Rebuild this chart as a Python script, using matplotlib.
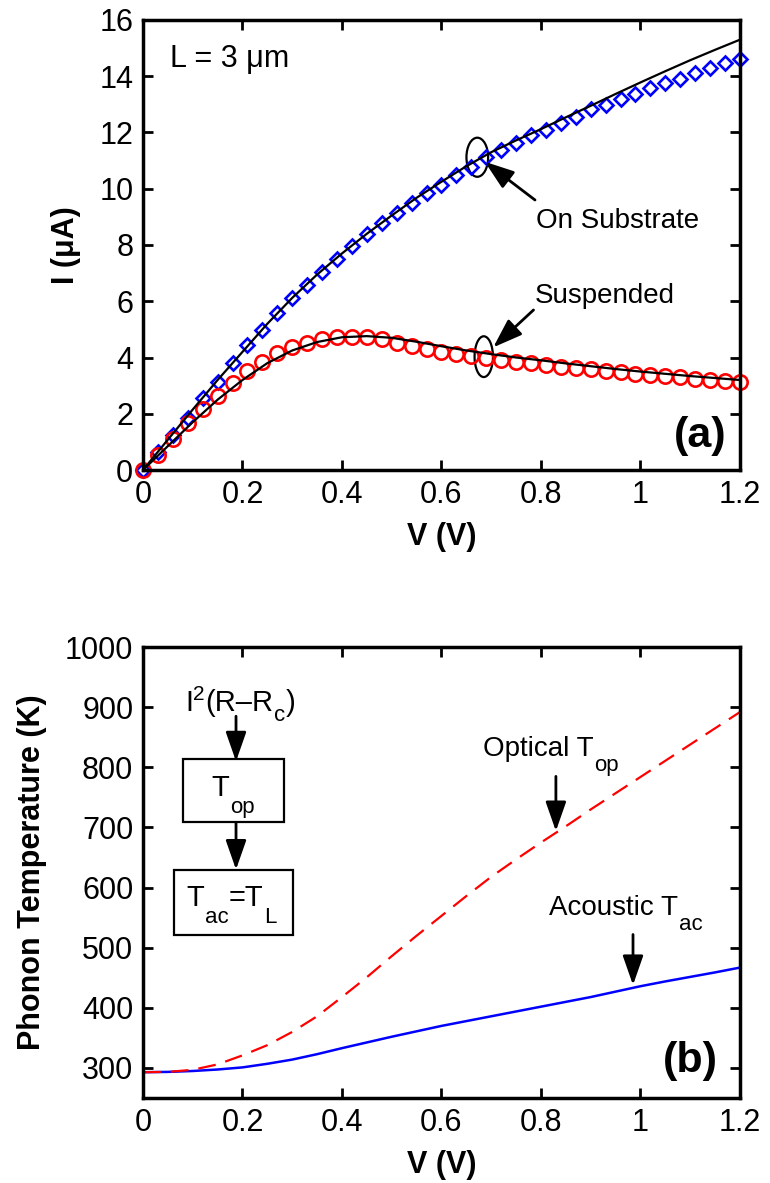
import matplotlib
matplotlib.use("Agg")
import matplotlib.pyplot as plt
from matplotlib.patches import Ellipse, Rectangle

plt.rcParams['font.family'] = ['Liberation Sans', 'DejaVu Sans']

# (a) measured I-V, one point every 30 mV
v_meas = [0.00, 0.03, 0.06, 0.09, 0.12, 0.15, 0.18, 0.21, 0.24, 0.27,
          0.30, 0.33, 0.36, 0.39, 0.42, 0.45, 0.48, 0.51, 0.54, 0.57,
          0.60, 0.63, 0.66, 0.69, 0.72, 0.75, 0.78, 0.81, 0.84, 0.87,
          0.90, 0.93, 0.96, 0.99, 1.02, 1.05, 1.08, 1.11, 1.14, 1.17, 1.20]
i_substrate = [0.0, 0.65, 1.24, 1.84, 2.55, 3.14, 3.79, 4.44, 4.98, 5.57,
               6.10, 6.58, 7.05, 7.50, 7.95, 8.38, 8.77, 9.13, 9.51, 9.84,
               10.13, 10.49, 10.78, 11.14, 11.38, 11.61, 11.91, 12.09, 12.33, 12.56,
               12.82, 12.98, 13.18, 13.37, 13.57, 13.77, 13.89, 14.10, 14.28, 14.46, 14.60]
i_suspended = [0.0, 0.53, 1.09, 1.66, 2.16, 2.63, 3.08, 3.53, 3.85, 4.15,
               4.36, 4.53, 4.65, 4.72, 4.74, 4.72, 4.65, 4.53, 4.41, 4.29,
               4.20, 4.12, 4.05, 4.00, 3.91, 3.85, 3.79, 3.73, 3.67, 3.61,
               3.58, 3.53, 3.47, 3.41, 3.38, 3.34, 3.29, 3.25, 3.20, 3.16, 3.14]

# model curves on a 50 mV grid
v_model = [0.00, 0.05, 0.10, 0.15, 0.20, 0.25, 0.30, 0.35, 0.40, 0.45,
           0.50, 0.55, 0.60, 0.65, 0.70, 0.75, 0.80, 0.85, 0.90, 0.95,
           1.00, 1.05, 1.10, 1.15, 1.20]
i_substrate_fit = [0.0, 1.08, 2.15, 3.20, 4.20, 5.20, 6.12, 6.95, 7.70, 8.40,
                   9.05, 9.68, 10.25, 10.80, 11.30, 11.72, 12.12, 12.54, 12.95, 13.37,
                   13.78, 14.18, 14.57, 14.94, 15.30]
i_suspended_fit = [0.0, 0.85, 1.70, 2.50, 3.20, 3.80, 4.25, 4.55, 4.72, 4.76,
                   4.70, 4.56, 4.40, 4.25, 4.12, 4.00, 3.90, 3.79, 3.69, 3.59,
                   3.50, 3.42, 3.34, 3.27, 3.20]

# (b) phonon temperatures (K)
t_optical = [293, 293.5, 297, 306, 321, 338, 360, 386, 418, 451,
             486, 520, 553, 586, 618, 647, 675, 702, 730, 757,
             784, 811, 838, 865, 892]
t_acoustic = [293, 293.5, 295, 297.5, 301, 307, 314, 323, 333, 342.5,
              352, 361, 370, 378, 386, 394, 402, 410, 418, 427,
              436, 444, 451.5, 459, 467]

x_ticks = [0, 0.2, 0.4, 0.6, 0.8, 1.0, 1.2]
x_tick_labels = ['0', '0.2', '0.4', '0.6', '0.8', '1', '1.2']

FS = 22


def style_axes(ax):
    for s in ax.spines.values():
        s.set_linewidth(2.5)
    ax.tick_params(direction='in', length=7, width=2, top=True, right=True,
                   labelsize=FS, pad=7)
    ax.set_xlim(0, 1.2)
    ax.set_xticks(x_ticks)
    ax.set_xticklabels(x_tick_labels)


def arrow(ax, tail, head):
    ax.annotate('', xy=head, xytext=tail,
                arrowprops=dict(arrowstyle='-|>,head_length=1.0,head_width=0.35',
                                mutation_scale=18, color='k', lw=2,
                                shrinkA=0, shrinkB=0))


def rich(ax, x, y, pieces):
    # pieces: (text, fontsize, vertical shift in points), chained left to right
    txt, fs, dy = pieces[0]
    t = ax.text(x, y, txt, fontsize=fs, ha='left', va='baseline')
    for txt, fs, dy in pieces[1:]:
        t = ax.annotate(txt, xy=(1, y), xycoords=(t, 'data'),
                        xytext=(0.3, dy), textcoords='offset points',
                        fontsize=fs, ha='left', va='baseline')


fig = plt.figure(figsize=(7.70, 11.83), dpi=100)
ax1 = fig.add_axes([0.1857, 0.6027, 0.7753, 0.3804])
ax2 = fig.add_axes([0.1857, 0.0718, 0.7753, 0.3812])

# ---- panel (a)
ax1.plot(v_meas, i_substrate, 'D', ms=7.6, mfc='none', mec='b', mew=1.9, clip_on=False)
ax1.plot(v_meas, i_suspended, 'o', ms=10.3, mfc='none', mec='r', mew=1.9, clip_on=False)
ax1.plot(v_model, i_substrate_fit, '-', color='k', lw=1.6)
ax1.plot(v_model, i_suspended_fit, '-', color='k', lw=1.6)
style_axes(ax1)
ax1.set_ylim(0, 16)
ax1.set_yticks(range(0, 17, 2))
ax1.set_xlabel('V (V)', fontsize=FS, fontweight='bold', labelpad=9)
ax1.set_ylabel('I (\u03bcA)', fontsize=FS, fontweight='bold', labelpad=13)

ax1.text(0.054, 14.34, 'L = 3 \u03bcm', fontsize=FS, ha='left', va='baseline')
ax1.text(0.791, 8.59, 'On Substrate', fontsize=20, ha='left', va='baseline')
ax1.text(0.788, 5.93, 'Suspended', fontsize=20, ha='left', va='baseline')
ax1.text(1.173, 0.83, '(a)', fontsize=31, fontweight='bold', ha='right', va='baseline')
ax1.add_patch(Ellipse((0.672, 11.12), 0.0436, 1.39, fill=False, ec='k', lw=1.6))
ax1.add_patch(Ellipse((0.685, 4.03), 0.037, 1.45, fill=False, ec='k', lw=1.6))
arrow(ax1, (0.788, 9.6), (0.687, 10.96))
arrow(ax1, (0.785, 5.69), (0.704, 4.36))

# ---- panel (b)
ax2.plot(v_model, t_acoustic, '-', color='b', lw=1.8)
ax2.plot(v_model, t_optical, '--', color='r', lw=1.6, dashes=(8, 4.5))
style_axes(ax2)
ax2.set_ylim(250, 1000)
ax2.set_yticks(range(300, 1001, 100))
ax2.set_xlabel('V (V)', fontsize=FS, fontweight='bold', labelpad=9)
ax2.set_ylabel('Phonon Temperature (K)', fontsize=FS, fontweight='bold', labelpad=13)

rich(ax2, 0.684, 819, [('Optical T', 20, 0), ('op', 16, -11)])
arrow(ax2, (0.830, 785), (0.830, 694))
rich(ax2, 0.817, 555, [('Acoustic T', 20, 0), ('ac', 16, -11)])
arrow(ax2, (0.985, 522), (0.985, 438))
ax2.text(1.156, 293, '(b)', fontsize=31, fontweight='bold', ha='right', va='baseline')

# heat flow sketch
rich(ax2, 0.0844, 894, [('I', 21, 0), ('2', 15, 8), ('(R\u2013R', 21, 0),
                        ('c', 16, -7), (')', 21, 0)])
arrow(ax2, (0.187, 885), (0.187, 810))
ax2.add_patch(Rectangle((0.081, 709), 0.203, 105.5, fill=False, ec='k', lw=1.6))
rich(ax2, 0.138, 752, [('T', 21, 0), ('op', 16, -12)])
arrow(ax2, (0.187, 708), (0.187, 630))
ax2.add_patch(Rectangle((0.063, 522), 0.238, 108, fill=False, ec='k', lw=1.6))
rich(ax2, 0.0878, 569, [('T', 21, 0), ('ac', 16, -12), ('=T', 21, 0), ('L', 16, -12)])

fig.savefig('out.png', dpi=100)
